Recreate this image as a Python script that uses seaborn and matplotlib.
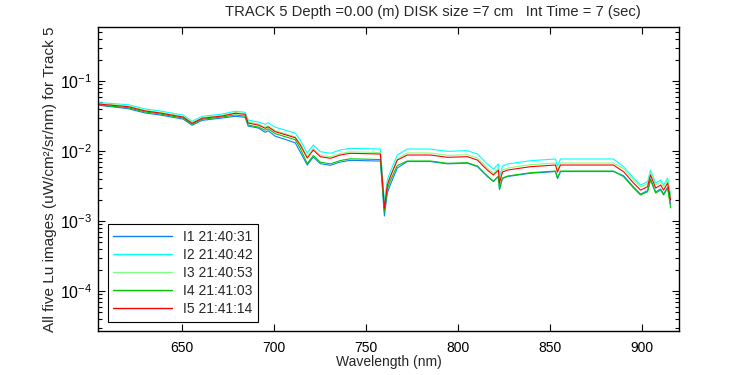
import numpy as np
import pandas as pd
import seaborn as sns
import matplotlib
matplotlib.use("Agg")
from matplotlib import pyplot as plt
from matplotlib.ticker import FuncFormatter

# wavelength nodes (nm)
wavelength = [604.5, 620.8, 630.1, 638.2, 646.4, 650.7, 655.6, 661.0, 671.9, 679.0,
              684.4, 686.0, 691.5, 695.3, 696.9, 700.7, 711.6, 714.3, 718.1, 721.4,
              725.2, 730.7, 736.0, 741.5, 757.8, 758.9, 760.0, 761.6, 763.2, 767.0,
              772.4, 784.9, 794.2, 805.1, 810.5, 815.9, 819.2, 821.9, 822.5, 824.1,
              826.8, 839.3, 852.9, 854.0, 855.6, 866.5, 884.4, 889.9, 895.3, 899.1,
              902.9, 904.5, 907.3, 910.0, 911.6, 913.8, 915.4]

# Lu values (uW/cm2/sr/nm), one list per image
lu_i1 = [0.0452, 0.0402, 0.0349, 0.0327, 0.0299, 0.0286, 0.0233, 0.0274, 0.0296, 0.0313,
         0.0303, 0.0227, 0.0213, 0.0185, 0.0195, 0.0163, 0.0131, 0.00969, 0.00630, 0.00820,
         0.00659, 0.00625, 0.00696, 0.00736, 0.00719, 0.00296, 0.00118, 0.00251, 0.00330, 0.00571,
         0.00708, 0.00708, 0.00656, 0.00670, 0.00600, 0.00432, 0.00366, 0.00432, 0.00282, 0.00404,
         0.00432, 0.00482, 0.00509, 0.00404, 0.00509, 0.00509, 0.00509, 0.00444, 0.00306, 0.00243,
         0.00271, 0.00398, 0.00260, 0.00287, 0.00243, 0.00306, 0.00175]
lu_i2 = [0.0492, 0.0459, 0.0398, 0.0373, 0.0341, 0.0327, 0.0266, 0.0313, 0.0337, 0.0370,
         0.0357, 0.0277, 0.0259, 0.0241, 0.0253, 0.0219, 0.0180, 0.0144, 0.00936, 0.01218,
         0.00979, 0.00928, 0.01034, 0.01093, 0.01068, 0.00454, 0.00191, 0.00386, 0.00506, 0.00876,
         0.01068, 0.01068, 0.00990, 0.01011, 0.00905, 0.00652, 0.00553, 0.00652, 0.00425, 0.00610,
         0.00652, 0.00727, 0.00769, 0.00610, 0.00769, 0.00769, 0.00769, 0.00597, 0.00411, 0.00327,
         0.00364, 0.00535, 0.00349, 0.00386, 0.00327, 0.00411, 0.00236]
lu_i3 = [0.0480, 0.0440, 0.0382, 0.0357, 0.0326, 0.0313, 0.0255, 0.0300, 0.0323, 0.0354,
         0.0342, 0.0259, 0.0243, 0.0218, 0.0229, 0.0195, 0.0160, 0.0128, 0.00834, 0.01085,
         0.00872, 0.00826, 0.00921, 0.00973, 0.00951, 0.00398, 0.00158, 0.00338, 0.00443, 0.00768,
         0.00937, 0.00937, 0.00868, 0.00886, 0.00794, 0.00571, 0.00485, 0.00571, 0.00373, 0.00535,
         0.00571, 0.00638, 0.00674, 0.00535, 0.00674, 0.00674, 0.00674, 0.00559, 0.00385, 0.00306,
         0.00341, 0.00501, 0.00327, 0.00361, 0.00306, 0.00385, 0.00221]
lu_i4 = [0.0454, 0.0416, 0.0361, 0.0338, 0.0309, 0.0296, 0.0241, 0.0284, 0.0306, 0.0327,
         0.0316, 0.0235, 0.0220, 0.0198, 0.0208, 0.0177, 0.0145, 0.0109, 0.00662, 0.00862,
         0.00692, 0.00656, 0.00731, 0.00773, 0.00756, 0.00338, 0.00134, 0.00287, 0.00376, 0.00620,
         0.00720, 0.00720, 0.00667, 0.00681, 0.00610, 0.00439, 0.00373, 0.00439, 0.00287, 0.00411,
         0.00439, 0.00490, 0.00518, 0.00411, 0.00518, 0.00518, 0.00518, 0.00429, 0.00296, 0.00235,
         0.00262, 0.00385, 0.00251, 0.00277, 0.00235, 0.00296, 0.00154]
lu_i5 = [0.0469, 0.0430, 0.0373, 0.0349, 0.0319, 0.0306, 0.0249, 0.0293, 0.0316, 0.0346,
         0.0334, 0.0251, 0.0235, 0.0211, 0.0222, 0.0189, 0.0155, 0.0122, 0.00794, 0.01033,
         0.00830, 0.00787, 0.00877, 0.00927, 0.00906, 0.00385, 0.00153, 0.00327, 0.00429, 0.00743,
         0.00877, 0.00877, 0.00813, 0.00830, 0.00743, 0.00535, 0.00454, 0.00535, 0.00349, 0.00501,
         0.00535, 0.00597, 0.00631, 0.00501, 0.00631, 0.00631, 0.00631, 0.00506, 0.00349, 0.00277,
         0.00309, 0.00454, 0.00296, 0.00327, 0.00277, 0.00349, 0.00200]

labels = ["I1 21:40:31", "I2 21:40:42", "I3 21:40:53", "I4 21:41:03", "I5 21:41:14"]
colors = ["#0A80FF", "#00FFFF", "#80FF80", "#00C800", "#FF0000"]

title = "TRACK 5 Depth =0.00 (m) DISK size =7 cm   Int Time = 7 (sec)"

# long table for seaborn
frames = []
for lab, vals in zip(labels, [lu_i1, lu_i2, lu_i3, lu_i4, lu_i5]):
    frames.append(pd.DataFrame({"wl": wavelength, "lu": vals, "image": lab}))
df = pd.concat(frames, ignore_index=True)

sns.set_style("ticks")
plt.rcParams['font.family'] = ['Liberation Sans', 'DejaVu Sans']
plt.rcParams['mathtext.fontset'] = 'custom'
plt.rcParams['mathtext.rm'] = 'Liberation Sans'
plt.rcParams['mathtext.it'] = 'Liberation Sans'

fig = plt.figure(figsize=(7.5, 3.75), dpi=100)
ax = fig.add_axes([0.1307, 0.1173, 0.7747, 0.8107])

sns.lineplot(data=df, x="wl", y="lu", hue="image", palette=colors,
             estimator=None, sort=False, linewidth=0.8, ax=ax)

ax.set_yscale("log")
ax.set_xlim(604.5, 920)
ax.set_ylim(2.69e-5, 0.59)
ax.set_xticks([650, 700, 750, 800, 850, 900])
ax.yaxis.set_major_formatter(FuncFormatter(lambda v, p: r"$\mathregular{10^{%d}}$" % round(np.log10(v))))

for s in ax.spines.values():
    s.set_visible(True)
    s.set_color("black")
    s.set_linewidth(1.0)
ax.tick_params(which="both", direction="in", top=True, right=True, colors="black")
ax.tick_params(which="major", length=5, width=0.8)
ax.tick_params(which="minor", length=3, width=0.8)
ax.tick_params(axis="x", which="minor", top=False, bottom=False)
ax.tick_params(axis="x", labelsize=10, pad=7)
ax.tick_params(axis="y", labelsize=11.5, pad=4)

ax.set_xlabel("Wavelength (nm)", fontsize=10, labelpad=0.5)
ax.set_ylabel("All five Lu images (uW/cm²/sr/nm) for Track 5", fontsize=11, labelpad=2)
fig.text(433 / 750, 1 - 12 / 375, title, ha="center", va="center", fontsize=10.6)

leg = ax.legend(loc="lower left", bbox_to_anchor=(0.017, 0.03), borderaxespad=0,
                fontsize=10, handlelength=4.2, labelspacing=0.3, fancybox=False,
                framealpha=1, edgecolor="black", title=None, borderpad=0.4,
                handletextpad=0.8)
leg.get_frame().set_linewidth(0.8)
for line in leg.get_lines():
    line.set_linewidth(1.0)

fig.savefig("out.png", dpi=100)
